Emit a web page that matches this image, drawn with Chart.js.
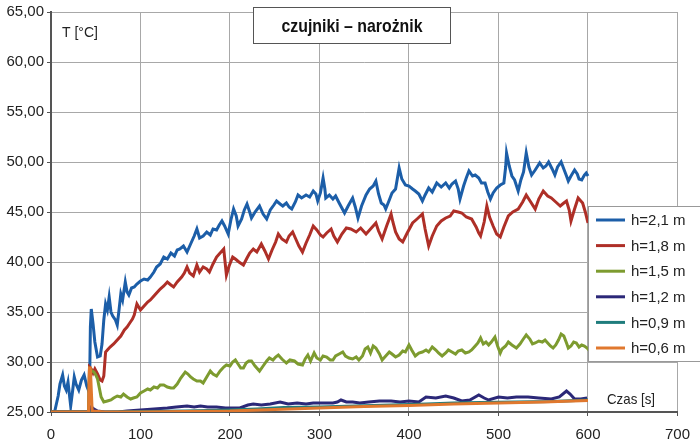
<!DOCTYPE html>
<html>
<head>
<meta charset="utf-8">
<script src="https://cdn.jsdelivr.net/npm/chart.js@4"></script>
<style>
  html, body { margin: 0; padding: 0; background: #fff; }
  #wrap { width: 700px; height: 446px; }
</style>
</head>
<body>
<div id="wrap"><canvas id="chart_czujniki"></canvas></div>
<script>
// odczyty z wykresu: czas [s] i temperatura [°C] dla każdej wysokości
const t21 = [0,4,6,8,10,13,15,17,19,21,22,24,26,28,31,34,37,40,43,44,45,47,49,52,55,57,59,61,63,65,67,69,72,74,76,78,80,83,85,87,90,93,96,100,104,108,111,115,118,122,126,130,134,138,141,144,148,152,156,160,163,166,170,174,178,181,185,188,191,194,198,201,204,207,209,213,216,219,222,224,228,233,237,241,245,249,252,256,259,263,266,269,273,276,280,285,289,293,296,298,301,304,306,307,311,315,318,322,325,328,332,337,340,343,347,352,356,360,363,366,369,372,374,378,381,385,389,392,396,400,404,407,411,415,418,422,426,431,436,441,445,448,452,455,457,461,464,467,471,474,478,481,485,488,491,494,498,502,506,508,509,512,515,518,522,525,528,531,534,537,541,546,550,553,556,560,563,566,570,573,576,578,581,585,588,590,593,596,598,600];
const h21 = [25.0,25.0,25.8,26.6,27.8,28.7,27.6,27.2,28.0,26.4,25.6,27.0,28.5,27.8,27.2,28.2,28.7,27.6,26.9,33.5,35.3,33.8,32.0,30.5,30.6,31.8,34.2,35.8,35.2,36.5,35.0,34.6,34.2,33.7,35.2,36.8,36.2,38.0,37.0,36.7,37.4,37.5,37.8,38.1,38.3,38.2,38.5,39.0,39.5,39.8,40.5,40.3,40.9,40.6,41.2,41.3,41.6,41.0,41.8,42.6,43.3,42.4,42.6,43.0,42.7,43.3,43.2,43.7,44.1,43.6,42.8,44.2,45.3,44.6,43.6,44.3,45.2,45.8,45.0,44.4,45.0,45.6,44.8,44.3,45.2,45.7,46.1,45.8,45.6,45.9,45.5,45.3,46.0,46.7,46.4,46.7,46.5,47.1,46.8,46.1,46.9,48.4,47.3,46.4,46.7,46.3,46.6,45.9,45.4,44.9,45.6,46.4,45.5,44.4,45.6,46.7,47.3,47.6,48.1,46.8,45.9,45.7,45.3,46.2,46.9,47.3,49.4,48.3,47.7,47.6,47.3,47.1,46.8,46.1,46.7,47.4,47.0,47.9,47.5,47.9,47.4,47.8,48.1,47.3,46.3,47.6,48.4,49.1,48.6,48.7,48.4,47.9,47.9,47.0,46.3,46.9,47.4,47.7,47.9,49.5,50.9,49.6,48.6,48.2,47.1,48.2,49.0,50.9,49.5,48.7,49.2,49.9,49.4,49.6,50.0,49.3,48.7,49.5,50.0,49.3,48.6,48.1,48.6,49.2,48.8,48.3,48.2,48.7,48.9,48.6];

const t18 = [0,42,43,45,47,49,52,55,57,59,61,63,66,70,74,78,82,85,88,91,93,96,98,100,104,108,111,115,118,122,126,130,134,137,141,146,149,152,155,159,163,166,170,174,177,181,185,189,193,196,199,203,206,210,215,219,222,226,230,235,239,243,247,251,254,258,263,266,270,273,277,281,285,289,293,297,301,304,308,313,316,320,325,330,335,341,346,352,357,363,366,370,375,380,382,385,389,393,398,404,409,415,418,422,426,431,436,441,446,450,455,459,464,470,475,478,480,484,487,490,494,498,502,506,511,516,522,527,531,536,541,545,550,555,559,564,569,573,576,579,581,585,589,592,594,597,600];
const h18 = [25.0,25.0,29.5,29.3,28.9,29.3,28.8,28.2,28.1,28.6,31.0,31.2,31.5,31.8,32.2,32.6,33.2,33.5,33.9,34.3,34.7,35.8,35.5,35.2,35.6,36.0,36.2,36.6,36.9,37.3,37.6,38.0,37.7,37.5,38.0,38.5,38.9,39.5,38.9,38.6,39.7,39.0,39.5,39.3,39.0,39.8,40.5,40.9,41.3,38.7,39.6,40.5,40.3,40.0,39.7,40.4,40.9,41.3,41.0,41.8,41.1,40.3,41.2,42.0,42.8,42.3,42.0,42.6,43.0,42.4,41.6,41.0,41.9,42.7,43.6,43.2,42.7,42.5,42.9,43.3,42.6,42.0,42.8,43.4,43.3,43.0,43.4,42.8,43.3,43.9,43.1,42.3,43.6,44.8,44.0,43.0,42.3,42.0,42.9,43.9,44.3,44.8,43.3,41.6,42.6,43.6,44.1,44.4,44.6,45.1,45.0,44.9,44.5,44.3,43.5,42.9,42.6,44.0,45.6,44.5,43.6,42.8,42.5,43.5,44.6,45.0,45.3,46.0,46.7,46.0,45.3,46.3,47.1,46.6,46.4,46.0,45.6,45.9,46.1,45.2,44.1,45.3,46.4,46.1,45.9,45.0,43.9];

const t15 = [0,42,43,46,48,50,52,54,56,59,63,67,70,74,78,81,85,89,92,96,100,104,108,111,115,119,122,126,130,134,137,141,145,150,153,156,159,163,167,170,174,178,181,185,189,193,196,200,203,206,209,212,215,218,221,224,228,233,237,241,244,248,251,254,258,263,267,272,276,281,284,287,290,294,297,301,304,308,312,315,318,322,326,329,333,337,341,344,348,351,354,357,360,363,367,370,374,378,381,385,389,393,396,400,403,407,411,415,419,422,426,430,433,437,441,444,448,452,455,459,463,467,470,474,477,480,483,486,489,492,496,499,502,504,508,511,515,520,524,527,531,535,538,541,545,549,552,555,558,561,564,567,570,573,576,578,581,584,587,590,593,596,599,600];
const h15 = [25.0,25.0,29.3,29.1,29.0,28.7,28.3,27.4,26.5,26.0,26.1,26.2,26.4,26.6,26.5,26.8,26.5,26.3,26.4,26.5,26.9,27.1,27.3,27.2,27.5,27.4,27.7,27.7,27.5,27.4,27.4,27.8,28.4,29.0,28.8,28.5,28.3,28.1,28.1,27.9,28.5,29.1,28.8,28.6,29.1,29.5,29.7,29.6,30.0,30.2,29.8,29.4,29.4,29.9,30.1,30.1,29.6,29.1,29.6,30.1,30.4,30.2,30.5,30.7,30.3,29.9,30.2,30.1,29.8,29.7,30.3,30.7,30.1,30.9,30.4,30.2,30.6,30.5,30.2,30.2,30.6,30.8,31.0,30.6,30.4,30.3,30.5,30.2,30.6,31.3,31.5,30.9,31.6,31.4,30.8,30.2,30.6,31.0,30.8,30.5,30.7,31.1,31.0,31.7,31.2,30.6,30.9,31.0,31.2,31.0,31.5,31.2,30.9,30.6,30.9,31.2,31.0,30.8,31.1,31.2,30.9,31.0,31.2,31.6,31.9,32.4,31.8,32.0,31.7,32.0,32.5,31.6,30.9,31.3,31.6,32.0,31.7,31.4,31.8,32.2,32.7,32.3,31.8,31.9,32.1,32.0,32.2,31.9,31.6,31.4,31.7,32.2,32.8,32.6,31.9,31.4,31.6,32.0,31.9,31.5,31.7,31.6,31.4,31.3];

const t12 = [0,42,45,48,52,60,75,85,100,115,130,140,152,160,167,175,185,195,205,211,220,226,235,245,256,265,275,285,293,304,315,320,324,330,337,345,355,367,380,390,400,411,419,430,441,450,459,468,478,484,489,500,510,520,533,545,559,568,576,580,585,592,599,600];
const h12 = [25.0,25.0,25.5,25.3,25.1,25.0,25.0,25.1,25.2,25.3,25.4,25.5,25.6,25.5,25.6,25.5,25.5,25.4,25.4,25.4,25.7,25.8,25.7,25.8,26.0,25.8,25.9,25.8,25.9,25.9,25.9,26.0,26.2,26.0,26.0,25.9,26.0,26.1,26.1,26.0,26.1,26.0,26.5,26.4,26.6,26.4,26.1,26.2,26.7,26.4,26.2,26.5,26.4,26.5,26.5,26.4,26.3,26.5,27.1,26.8,26.3,26.3,26.4,26.4];

const t09 = [0,42,60,100,150,200,230,260,300,340,380,420,450,480,520,560,600];
const h09 = [25.0,25.0,25.0,25.05,25.1,25.2,25.3,25.45,25.5,25.6,25.7,25.8,25.9,25.95,26.0,26.05,26.2];

const t06 = [0,42,43,44,46,60,100,150,200,250,300,350,400,450,500,550,600];
const h06 = [25.0,25.0,29.4,29.4,25.1,25.0,25.0,25.05,25.1,25.25,25.4,25.55,25.65,25.8,25.9,26.0,26.15];

const seriesLabels = ['h=2,1 m', 'h=1,8 m', 'h=1,5 m', 'h=1,2 m', 'h=0,9 m', 'h=0,6 m'];
const seriesTimes = [t21, t18, t15, t12, t09, t06];
const seriesTemps = [h21, h18, h15, h12, h09, h06];
const seriesColors = ['#1c5ea8', '#ae2f27', '#7d9b2f', '#2b2878', '#1f7c7c', '#e0782e'];

const chartTitle = 'czujniki – narożnik';
const yTitle = 'T [°C]';
const xTitle = 'Czas [s]';

const FONT = '"Liberation Sans", Arial, sans-serif';

// tekst zwężony w poziomie, żeby przypominał krój "condensed" z oryginału
function narrowText(ctx, text, x, y, width) {
    const w = ctx.measureText(text).width;
    const k = Math.min(1, width / w);
    ctx.save();
    ctx.translate(x, y);
    ctx.scale(k, 1);
    ctx.fillText(text, 0, 0);
    ctx.restore();
}

const overlay = {
    id: 'overlay',
    afterDraw(chart) {
        const ctx = chart.ctx;
        ctx.save();

        // ramka z tytułem
        ctx.fillStyle = '#fff';
        ctx.fillRect(253, 7, 198, 37);
        ctx.strokeStyle = '#555';
        ctx.lineWidth = 1;
        ctx.strokeRect(253.5, 7.5, 197, 36);
        ctx.fillStyle = '#111';
        ctx.font = 'bold 19px ' + FONT;
        ctx.textAlign = 'center';
        ctx.textBaseline = 'middle';
        narrowText(ctx, chartTitle, 352, 27, 141);

        // opisy osi
        ctx.fillStyle = '#222';
        ctx.font = '14px ' + FONT;
        ctx.textAlign = 'left';
        narrowText(ctx, yTitle, 62, 33, 36);
        ctx.font = '15px ' + FONT;
        narrowText(ctx, xTitle, 607, 400, 48);

        // legenda
        ctx.fillStyle = '#fff';
        ctx.fillRect(588, 206, 112, 156);
        ctx.strokeStyle = '#999';
        ctx.strokeRect(588.5, 206.5, 115, 155);
        ctx.font = '15px ' + FONT;
        ctx.textAlign = 'left';
        ctx.textBaseline = 'middle';
        seriesLabels.forEach((lab, i) => {
            const y = 220 + i * 25.6;
            ctx.strokeStyle = seriesColors[i];
            ctx.lineWidth = 3;
            ctx.beginPath();
            ctx.moveTo(596, y);
            ctx.lineTo(625, y);
            ctx.stroke();
            ctx.fillStyle = '#222';
            narrowText(ctx, lab, 631, y + 1, 56);
        });
        ctx.restore();
    }
};

const datasets = seriesLabels.map((lab, i) => ({
    label: lab,
    data: seriesTimes[i].map((t, j) => ({ x: t, y: seriesTemps[i][j] })),
    borderColor: seriesColors[i],
    backgroundColor: seriesColors[i],
    borderWidth: 3,
    pointRadius: 0,
    tension: 0,
    order: seriesLabels.length - i
}));

new Chart(document.getElementById('chart_czujniki'), {
    type: 'line',
    data: { datasets: datasets },
    options: {
        responsive: true,
        maintainAspectRatio: false,
        animation: false,
        layout: { padding: { top: 7, right: 21, bottom: 0, left: 0 } },
        plugins: {
            legend: { display: false },
            tooltip: { enabled: false },
            title: { display: false }
        },
        scales: {
            x: {
                type: 'linear',
                min: 0,
                max: 700,
                ticks: {
                    stepSize: 100,
                    color: '#222',
                    font: { family: FONT, size: 15 },
                    padding: 10,
                    maxRotation: 0
                },
                grid: { color: '#a8a8a8', lineWidth: 1, tickLength: 4, tickColor: '#555' },
                border: { color: '#555', width: 2 },
                afterFit(scale) { scale.height = 34; }
            },
            y: {
                min: 25,
                max: 65,
                ticks: {
                    stepSize: 5,
                    color: '#222',
                    font: { family: FONT, size: 15 },
                    padding: 3,
                    callback: v => v.toFixed(2).replace('.', ',')
                },
                grid: { color: '#a8a8a8', lineWidth: 1, tickLength: 4, tickColor: '#555' },
                border: { color: '#555', width: 2 },
                afterFit(scale) { scale.width = 51; }
            }
        }
    },
    plugins: [overlay]
});
</script>
</body>
</html>
